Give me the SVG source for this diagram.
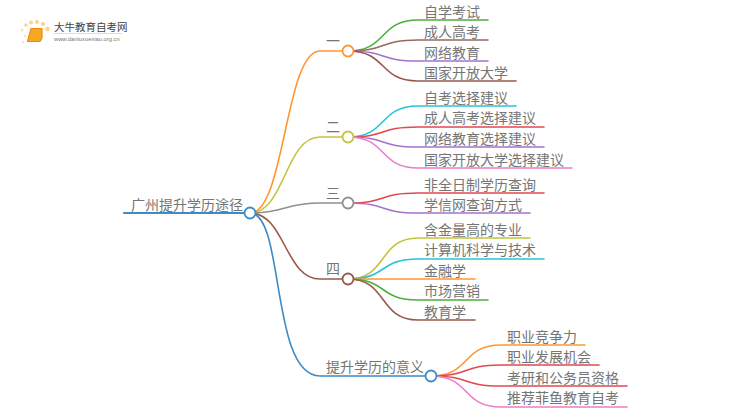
<svg xmlns="http://www.w3.org/2000/svg" width="750" height="410" viewBox="0 0 750 410">
<style>
text{font-family:"Noto Sans CJK SC","Liberation Sans",sans-serif;fill:#757575}
.l{font-size:14px}
.c path{fill:none;stroke-width:1.6;stroke-linecap:round}
.n{fill:#fff;stroke-width:1.8}
</style>
<rect width="750" height="410" fill="#fff"/>
<g id="logo">
<circle cx="26" cy="25" r="1.8" fill="#fbd38a"/><circle cx="31" cy="22.500" r="2" fill="#fbd38a"/><circle cx="37" cy="22" r="2" fill="#fbd38a"/><circle cx="43" cy="24" r="2" fill="#fbd38a"/><circle cx="47.500" cy="29" r="2.200" fill="#fbd38a"/><circle cx="22" cy="30" r="1.500" fill="#fde3b5"/><circle cx="25" cy="36" r="1.500" fill="#fde3b5"/><circle cx="23" cy="42" r="1.200" fill="#fde3b5"/>
<path d="M31 28.500H42V38L40 41.500H27.500Z" fill="#f7a823" stroke="#ea8a1c" stroke-width="1.200" stroke-linejoin="round"/>
<text x="54" y="31" style="font-size:10.500px;fill:#444">大牛教育自考网</text>
<path d="M54 33.500H122" stroke="#ddd" stroke-width="1"/>
<text x="54" y="41" style="font-size:5.800px;fill:#777;font-family:'Liberation Sans',sans-serif">www.daniuxuexiao.org.cn</text>
</g>
<g class="c" id="connectors">
<path d="M124 213H250" stroke="#3d8bc4" style="stroke-width:2"/>
<path d="M250 213C285 213 285 51 320 51H348" stroke="#ff9632"/>
<path d="M250 213C285 213 285 137 320 137H348" stroke="#c4c43c"/>
<path d="M250 213C285 213 285 203 320 203H348" stroke="#909090"/>
<path d="M250 213C285 213 285 279 320 279H348" stroke="#98594a"/>
<path d="M250 213C285 213 270 376 320 376H431" stroke="#3d8bc4"/>
<path d="M348 51C388 51 378 20 418 20H488" stroke="#4caf3e"/>
<path d="M348 51C388 51 378 40 418 40H488" stroke="#98695e"/>
<path d="M348 51C388 51 378 61 418 61H488" stroke="#a473cc"/>
<path d="M348 51C388 51 378 81 418 81H516" stroke="#98594a"/>
<path d="M348 137C388 137 378 106 418 106H516" stroke="#28c4d8"/>
<path d="M348 137C388 137 378 127 418 127H544" stroke="#e2484f"/>
<path d="M348 137C388 137 378 147 418 147H544" stroke="#a473cc"/>
<path d="M348 137C388 137 378 168 418 168H572" stroke="#ea7fc8"/>
<path d="M348 203C388 203 378 193 418 193H544" stroke="#e2484f"/>
<path d="M348 203C388 203 378 213 418 213H530" stroke="#a473cc"/>
<path d="M348 279C388 279 378 238 418 238H530" stroke="#c4c43c"/>
<path d="M348 279C388 279 378 259 418 259H544" stroke="#28c4d8"/>
<path d="M348 279H475" stroke="#ff9632"/>
<path d="M348 279C388 279 378 300 418 300H488" stroke="#4caf3e"/>
<path d="M348 279C388 279 378 320 418 320H475" stroke="#98594a"/>
<path d="M431 376C471 376 461 345 501 345H585" stroke="#ff9632"/>
<path d="M431 376C471 376 461 365 501 365H599" stroke="#e2484f"/>
<path d="M431 376C471 376 461 386 501 386H627" stroke="#e2484f"/>
<path d="M431 376C471 376 461 407 501 407H627" stroke="#ea7fc8"/>
</g>
<g id="root"><text x="131" y="210" style="font-size:14px">广州提升学历途径</text><circle class="n" cx="250" cy="213" r="5.500" stroke="#3d8bc4"/></g>
<g id="n1"><text x="326" y="46" class="l">一</text><circle class="n" cx="348" cy="51" r="5.500" stroke="#ff9632"/></g>
<g id="n2"><text x="326" y="132" class="l">二</text><circle class="n" cx="348" cy="137" r="5.500" stroke="#c4c43c"/></g>
<g id="n3"><text x="326" y="198" class="l">三</text><circle class="n" cx="348" cy="203" r="5.500" stroke="#909090"/></g>
<g id="n4"><text x="326" y="274" class="l">四</text><circle class="n" cx="348" cy="279" r="5.500" stroke="#98594a"/></g>
<g id="n5"><text x="326" y="372" class="l">提升学历的意义</text><circle class="n" cx="431" cy="376" r="5.500" stroke="#3d8bc4"/></g>
<g id="leaves" class="l">
<text x="424" y="17">自学考试</text>
<text x="424" y="37">成人高考</text>
<text x="424" y="58">网络教育</text>
<text x="424" y="78">国家开放大学</text>
<text x="424" y="103">自考选择建议</text>
<text x="424" y="123">成人高考选择建议</text>
<text x="424" y="144">网络教育选择建议</text>
<text x="424" y="165">国家开放大学选择建议</text>
<text x="424" y="190">非全日制学历查询</text>
<text x="424" y="210">学信网查询方式</text>
<text x="424" y="235">含金量高的专业</text>
<text x="424" y="255">计算机科学与技术</text>
<text x="424" y="276">金融学</text>
<text x="424" y="296">市场营销</text>
<text x="424" y="317">教育学</text>
<text x="507" y="342">职业竞争力</text>
<text x="507" y="362">职业发展机会</text>
<text x="507" y="383">考研和公务员资格</text>
<text x="507" y="403">推荐菲鱼教育自考</text>
</g>
</svg>
